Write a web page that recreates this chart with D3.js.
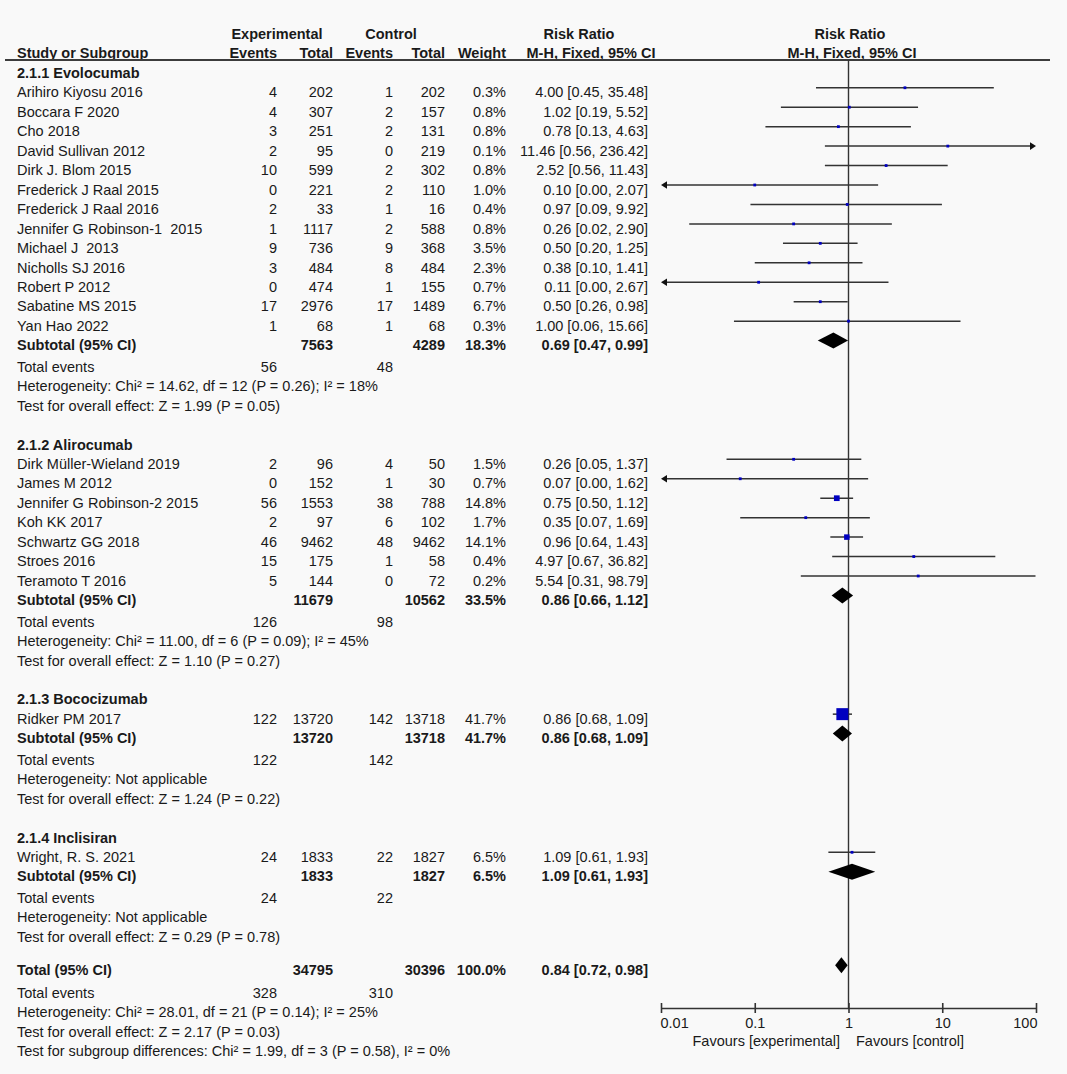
<!DOCTYPE html>
<html>
<head>
<meta charset="utf-8">
<script src="https://cdn.jsdelivr.net/npm/d3@7"></script>
<style>
  body { margin: 0; background: #f9f9f9; }
  svg text { font-family: "Liberation Sans", Arial, sans-serif; font-size: 14.5px; fill: #1a1a1a; white-space: pre; }
</style>
</head>
<body>
<svg id="forest"></svg>
<script>
// ---- data ----
const groupLabels = ["2.1.1 Evolocumab", "2.1.2 Alirocumab", "2.1.3 Bococizumab", "2.1.4 Inclisiran"];

const studyNames = [
  "Arihiro Kiyosu 2016", "Boccara F 2020", "Cho 2018", "David Sullivan 2012", "Dirk J. Blom 2015",
  "Frederick J Raal 2015", "Frederick J Raal 2016", "Jennifer G Robinson-1  2015", "Michael J  2013",
  "Nicholls SJ 2016", "Robert P 2012", "Sabatine MS 2015", "Yan Hao 2022",
  "Dirk Müller-Wieland 2019", "James M 2012", "Jennifer G Robinson-2 2015", "Koh KK 2017",
  "Schwartz GG 2018", "Stroes 2016", "Teramoto T 2016",
  "Ridker PM 2017",
  "Wright, R. S. 2021"
];
const studyGroup = [0,0,0,0,0,0,0,0,0,0,0,0,0, 1,1,1,1,1,1,1, 2, 3];
const expEvents  = [4,4,3,2,10,0,2,1,9,3,0,17,1, 2,0,56,2,46,15,5, 122, 24];
const expTotal   = [202,307,251,95,599,221,33,1117,736,484,474,2976,68, 96,152,1553,97,9462,175,144, 13720, 1833];
const ctrlEvents = [1,2,2,0,2,2,1,2,9,8,1,17,1, 4,1,38,6,48,1,0, 142, 22];
const ctrlTotal  = [202,157,131,219,302,110,16,588,368,484,155,1489,68, 50,30,788,102,9462,58,72, 13718, 1827];
const weights    = [0.3,0.8,0.8,0.1,0.8,1.0,0.4,0.8,3.5,2.3,0.7,6.7,0.3, 1.5,0.7,14.8,1.7,14.1,0.4,0.2, 41.7, 6.5];
const riskRatio  = [4.00,1.02,0.78,11.46,2.52,0.10,0.97,0.26,0.50,0.38,0.11,0.50,1.00, 0.26,0.07,0.75,0.35,0.96,4.97,5.54, 0.86, 1.09];
const ciLow      = [0.45,0.19,0.13,0.56,0.56,0.00,0.09,0.02,0.20,0.10,0.00,0.26,0.06, 0.05,0.00,0.50,0.07,0.64,0.67,0.31, 0.68, 0.61];
const ciHigh     = [35.48,5.52,4.63,236.42,11.43,2.07,9.92,2.90,1.25,1.41,2.67,0.98,15.66, 1.37,1.62,1.12,1.69,1.43,36.82,98.79, 1.09, 1.93];

const subExpTotal   = [7563, 11679, 13720, 1833];
const subCtrlTotal  = [4289, 10562, 13718, 1827];
const subWeight     = [18.3, 33.5, 41.7, 6.5];
const subRR         = [0.69, 0.86, 0.86, 1.09];
const subLow        = [0.47, 0.66, 0.68, 0.61];
const subHigh       = [0.99, 1.12, 1.09, 1.93];
const subExpEvents  = [56, 126, 122, 24];
const subCtrlEvents = [48, 98, 142, 22];
const subHet = [
  "Heterogeneity: Chi² = 14.62, df = 12 (P = 0.26); I² = 18%",
  "Heterogeneity: Chi² = 11.00, df = 6 (P = 0.09); I² = 45%",
  "Heterogeneity: Not applicable",
  "Heterogeneity: Not applicable"
];
const subEffect = [
  "Test for overall effect: Z = 1.99 (P = 0.05)",
  "Test for overall effect: Z = 1.10 (P = 0.27)",
  "Test for overall effect: Z = 1.24 (P = 0.22)",
  "Test for overall effect: Z = 0.29 (P = 0.78)"
];

const totalCounts = [34795, 30396];
const totalEvents = [328, 310];
const totalWeight = 100.0;
const totalRR = [0.84, 0.72, 0.98];
const totalNotes = [
  "Heterogeneity: Chi² = 28.01, df = 21 (P = 0.14); I² = 25%",
  "Test for overall effect: Z = 2.17 (P = 0.03)",
  "Test for subgroup differences: Chi² = 1.99, df = 3 (P = 0.58), I² = 0%"
];

const tickValues = [0.01, 0.1, 1, 10, 100];
const tickLabels = ["0.01", "0.1", "1", "10", "100"];

// ---- layout ----
const W = 1067, H = 1074;
const col = { name: 17, expEv: 277, expTot: 333, ctlEv: 393, ctlTot: 445, weight: 506, ci: 648 };
const step = 19.45;
const axisY = 1008;

const svg = d3.select("#forest").attr("width", W).attr("height", H);
svg.append("rect").attr("width", W).attr("height", H).attr("fill", "#f9f9f9");

const x = d3.scaleLog().domain([0.01, 100]).range([661, 1036]);

const f2 = d3.format(".2f");
const ciText = (r, l, h) => f2(r) + " [" + f2(l) + ", " + f2(h) + "]";
const pct = w => w.toFixed(1) + "%";

function txt(xp, cy, s, anchor, bold) {
  return svg.append("text")
    .attr("x", xp).attr("y", cy + 5)
    .attr("text-anchor", anchor || "start")
    .style("font-weight", bold ? "bold" : null)
    .text(s);
}

// headers
txt(277, 34, "Experimental", "middle", true);
txt(391, 34, "Control", "middle", true);
txt(579, 34, "Risk Ratio", "middle", true);
txt(850, 34, "Risk Ratio", "middle", true);
txt(col.name, 53, "Study or Subgroup", "start", true);
txt(col.expEv, 53, "Events", "end", true);
txt(col.expTot, 53, "Total", "end", true);
txt(col.ctlEv, 53, "Events", "end", true);
txt(col.ctlTot, 53, "Total", "end", true);
txt(col.weight, 53, "Weight", "end", true);
txt(591, 53, "M-H, Fixed, 95% CI", "middle", true);
txt(852, 53, "M-H, Fixed, 95% CI", "middle", true);

svg.append("line").attr("x1", 5).attr("x2", 1050).attr("y1", 60).attr("y2", 60)
  .attr("stroke", "#3c3c3c").attr("stroke-width", 1.8);

// build rows
const rows = [];
let cy = 73;
groupLabels.forEach((g, gi) => {
  rows.push({ kind: "group", gi, cy }); cy += step;
  studyNames.forEach((n, i) => {
    if (studyGroup[i] === gi) { rows.push({ kind: "study", i, cy }); cy += step; }
  });
  rows.push({ kind: "sub", gi, cy }); cy += step + 2;
  rows.push({ kind: "events", gi, cy }); cy += step;
  rows.push({ kind: "het", gi, cy }); cy += step;
  rows.push({ kind: "effect", gi, cy }); cy += step;
  if (gi < groupLabels.length - 1) cy += step;
});
cy += 13.75;
rows.push({ kind: "total", cy }); cy += step + 3.5;
rows.push({ kind: "totalEvents", cy }); cy += step;
totalNotes.forEach(t => { rows.push({ kind: "note", t, cy }); cy += step; });

// vertical line of no effect
svg.append("line").attr("x1", x(1)).attr("x2", x(1)).attr("y1", 60).attr("y2", axisY)
  .attr("stroke", "#333").attr("stroke-width", 1.4);

const markG = svg.append("g");
const lineColor = "#333";

function diamond(r, l, h, my) {
  markG.append("path")
    .attr("d", "M" + x(l) + "," + my + "L" + x(r) + "," + (my - 8) + "L" + x(h) + "," + my + "L" + x(r) + "," + (my + 8) + "Z")
    .attr("fill", "#000");
}

rows.forEach(r => {
  const my = r.cy - 4.7;
  if (r.kind === "group") {
    txt(col.name, r.cy, groupLabels[r.gi], "start", true);
  } else if (r.kind === "study") {
    const i = r.i;
    txt(col.name, r.cy, studyNames[i]);
    txt(col.expEv, r.cy, expEvents[i], "end");
    txt(col.expTot, r.cy, expTotal[i], "end");
    txt(col.ctlEv, r.cy, ctrlEvents[i], "end");
    txt(col.ctlTot, r.cy, ctrlTotal[i], "end");
    txt(col.weight, r.cy, pct(weights[i]), "end");
    txt(col.ci, r.cy, ciText(riskRatio[i], ciLow[i], ciHigh[i]), "end");

    const lo = Math.max(ciLow[i], 0.01), hi = Math.min(ciHigh[i], 100);
    const xl = x(lo), xh = x(hi);
    markG.append("line").attr("x1", ciLow[i] < 0.01 ? xl + 4 : xl).attr("x2", ciHigh[i] > 100 ? xh - 4 : xh)
      .attr("y1", my).attr("y2", my).attr("stroke", lineColor).attr("stroke-width", 1.5);
    if (ciLow[i] < 0.01) {
      markG.append("path").attr("d", "M" + xl + "," + my + "L" + (xl + 6) + "," + (my - 3.8) + "L" + (xl + 6) + "," + (my + 3.8) + "Z").attr("fill", "#111");
    }
    if (ciHigh[i] > 100) {
      markG.append("path").attr("d", "M" + xh + "," + my + "L" + (xh - 6) + "," + (my - 3.8) + "L" + (xh - 6) + "," + (my + 3.8) + "Z").attr("fill", "#111");
    }
    const s = Math.max(2.8, 2.41 * Math.sqrt(weights[i]) - 3.57);
    markG.append("rect").attr("x", x(riskRatio[i]) - s / 2).attr("y", my - s / 2)
      .attr("width", s).attr("height", s).attr("fill", "#0000c0");
  } else if (r.kind === "sub") {
    const g = r.gi;
    txt(col.name, r.cy, "Subtotal (95% CI)", "start", true);
    txt(col.expTot, r.cy, subExpTotal[g], "end", true);
    txt(col.ctlTot, r.cy, subCtrlTotal[g], "end", true);
    txt(col.weight, r.cy, pct(subWeight[g]), "end", true);
    txt(col.ci, r.cy, ciText(subRR[g], subLow[g], subHigh[g]), "end", true);
    diamond(subRR[g], subLow[g], subHigh[g], my);
  } else if (r.kind === "events") {
    txt(col.name, r.cy, "Total events");
    txt(col.expEv, r.cy, subExpEvents[r.gi], "end");
    txt(col.ctlEv, r.cy, subCtrlEvents[r.gi], "end");
  } else if (r.kind === "het") {
    txt(col.name, r.cy, subHet[r.gi]);
  } else if (r.kind === "effect") {
    txt(col.name, r.cy, subEffect[r.gi]);
  } else if (r.kind === "total") {
    txt(col.name, r.cy, "Total (95% CI)", "start", true);
    txt(col.expTot, r.cy, totalCounts[0], "end", true);
    txt(col.ctlTot, r.cy, totalCounts[1], "end", true);
    txt(col.weight, r.cy, pct(totalWeight), "end", true);
    txt(col.ci, r.cy, ciText(totalRR[0], totalRR[1], totalRR[2]), "end", true);
    diamond(totalRR[0], totalRR[1], totalRR[2], my);
  } else if (r.kind === "totalEvents") {
    txt(col.name, r.cy, "Total events");
    txt(col.expEv, r.cy, totalEvents[0], "end");
    txt(col.ctlEv, r.cy, totalEvents[1], "end");
  } else if (r.kind === "note") {
    txt(col.name, r.cy, r.t);
  }
});

// axis
const axis = svg.append("g")
  .attr("transform", "translate(0," + axisY + ")")
  .style("color", "#333")
  .call(d3.axisBottom(x).tickValues(tickValues).tickFormat((d, i) => tickLabels[i]).tickSizeOuter(0));
axis.select(".domain").attr("stroke-width", 1.6);
axis.selectAll(".tick line").attr("y1", -5).attr("y2", 5).attr("stroke-width", 1.6);
axis.selectAll(".tick text").attr("y", 10)
  .attr("text-anchor", (d, i) => i === 0 ? "start" : (i === tickValues.length - 1 ? "end" : "middle"))
  .attr("dx", (d, i) => i === 0 ? -1 : (i === tickValues.length - 1 ? 1 : 0));

txt(840, 1041, "Favours [experimental]", "end");
txt(856, 1041, "Favours [control]", "start");
</script>
</body>
</html>
